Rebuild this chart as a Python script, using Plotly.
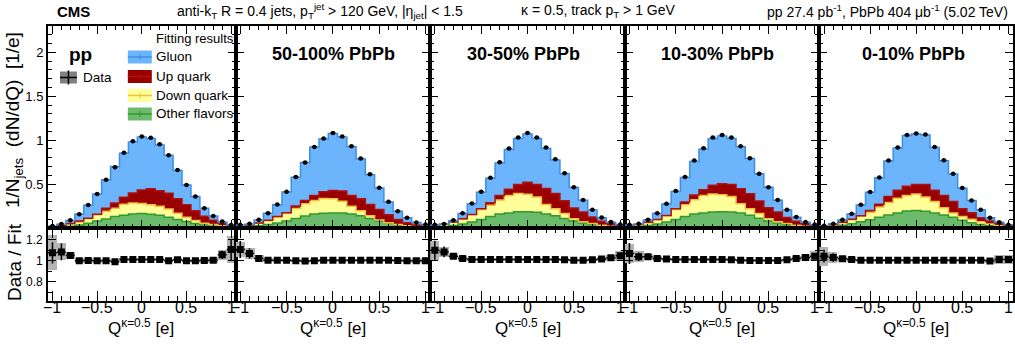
import plotly.graph_objects as go

# ---------------- data ----------------
BIN_CENTERS = [-1.0, -0.9, -0.8, -0.7, -0.6, -0.5, -0.4, -0.3, -0.2, -0.1, 0.0,
               0.1, 0.2, 0.3, 0.4, 0.5, 0.6, 0.7, 0.8, 0.9, 1.0]
BIN_EDGES = [-1.05, -0.95, -0.85, -0.75, -0.65, -0.55, -0.45, -0.35, -0.25, -0.15, -0.05,
             0.05, 0.15, 0.25, 0.35, 0.45, 0.55, 0.65, 0.75, 0.85, 0.95, 1.05]
PANEL_LABELS = ["pp", "50-100% PbPb", "30-50% PbPb", "10-30% PbPb", "0-10% PbPb"]
X_TICKS = [-1, -0.5, 0, 0.5, 1]
X_TICK_TEXT = ["\u22121", "\u22120.5", "0", "0.5", "1"]
RATIO_TICKS = [0.8, 1.0, 1.2]
RATIO_TICK_TEXT = ["0.8", "1", "1.2"]

# pp
DATA_PP = [0.023, 0.046, 0.088, 0.157, 0.261, 0.387, 0.548, 0.693, 0.858, 0.989, 1.042,
           1.027, 0.954, 0.828, 0.659, 0.490, 0.360, 0.226, 0.138, 0.073, 0.034]
FIT_TOP_PP = [0.021, 0.042, 0.084, 0.157, 0.260, 0.387, 0.548, 0.700, 0.850, 0.980, 1.035,
              1.018, 0.945, 0.828, 0.655, 0.490, 0.360, 0.226, 0.137, 0.069, 0.031]
UP_TOP_PP = [0.015, 0.030, 0.050, 0.080, 0.110, 0.157, 0.226, 0.284, 0.349, 0.398, 0.433,
             0.448, 0.425, 0.395, 0.333, 0.264, 0.195, 0.134, 0.088, 0.054, 0.028]
DOWN_TOP_PP = [0.012, 0.025, 0.040, 0.065, 0.107, 0.150, 0.190, 0.226, 0.270, 0.284, 0.280,
               0.264, 0.249, 0.215, 0.169, 0.123, 0.084, 0.054, 0.040, 0.027, 0.015]
OTHER_TOP_PP = [0.006, 0.012, 0.020, 0.035, 0.054, 0.080, 0.103, 0.130, 0.146, 0.160, 0.165,
                0.157, 0.146, 0.123, 0.096, 0.073, 0.050, 0.035, 0.022, 0.013, 0.008]
RATIO_PP = [1.075, 1.084, 1.050, 1.000, 1.003, 1.000, 1.000, 0.990, 1.012, 1.012, 1.012,
            1.012, 1.012, 1.000, 1.010, 1.000, 1.000, 1.003, 1.006, 1.056, 1.106]
STAT_PP = [0.10, 0.08, 0.03, 0.02, 0.015, 0.01, 0.01, 0.01, 0.01, 0.01, 0.01,
           0.01, 0.01, 0.01, 0.01, 0.01, 0.01, 0.015, 0.02, 0.04, 0.10]
SYST_PP = [0.165, 0.08, 0.035, 0.025, 0.02, 0.02, 0.015, 0.015, 0.015, 0.015, 0.015,
           0.015, 0.015, 0.015, 0.015, 0.015, 0.02, 0.02, 0.03, 0.05, 0.13]

# PbPb 50-100%
DATA_C50 = [0.036, 0.047, 0.093, 0.169, 0.268, 0.413, 0.580, 0.745, 0.923, 1.019, 1.083,
            1.042, 0.931, 0.790, 0.611, 0.459, 0.299, 0.192, 0.117, 0.063, 0.040]
FIT_TOP_C50 = [0.033, 0.044, 0.091, 0.168, 0.266, 0.410, 0.577, 0.745, 0.923, 1.013, 1.076,
               1.036, 0.925, 0.785, 0.607, 0.456, 0.297, 0.191, 0.117, 0.063, 0.040]
UP_TOP_C50 = [0.020, 0.035, 0.058, 0.087, 0.130, 0.175, 0.250, 0.313, 0.370, 0.413, 0.428,
              0.420, 0.370, 0.333, 0.268, 0.211, 0.150, 0.097, 0.059, 0.035, 0.020]
DOWN_TOP_C50 = [0.015, 0.030, 0.055, 0.083, 0.125, 0.170, 0.222, 0.277, 0.313, 0.336, 0.333,
                0.305, 0.248, 0.195, 0.140, 0.090, 0.060, 0.040, 0.025, 0.015, 0.008]
OTHER_TOP_C50 = [0.008, 0.015, 0.025, 0.040, 0.057, 0.080, 0.107, 0.137, 0.160, 0.168, 0.170,
                 0.170, 0.160, 0.140, 0.107, 0.080, 0.057, 0.038, 0.024, 0.014, 0.008]
RATIO_C50 = [1.106, 1.069, 1.022, 1.006, 1.006, 1.006, 1.000, 0.997, 1.000, 1.006, 1.006,
             1.006, 1.006, 1.006, 1.006, 1.006, 1.006, 1.003, 1.000, 1.000, 1.000]
STAT_C50 = [0.08, 0.05, 0.02, 0.015, 0.01, 0.01, 0.01, 0.01, 0.01, 0.01, 0.01,
            0.01, 0.01, 0.01, 0.01, 0.01, 0.01, 0.01, 0.015, 0.02, 0.03]
SYST_C50 = [0.07, 0.05, 0.03, 0.02, 0.015, 0.015, 0.015, 0.015, 0.015, 0.015, 0.015,
            0.015, 0.015, 0.015, 0.015, 0.015, 0.015, 0.015, 0.02, 0.025, 0.03]

# PbPb 30-50%
DATA_C30 = [0.036, 0.045, 0.087, 0.169, 0.280, 0.413, 0.573, 0.748, 0.904, 1.030, 1.083,
            1.030, 0.916, 0.782, 0.623, 0.463, 0.318, 0.207, 0.120, 0.067, 0.040]
FIT_TOP_C30 = [0.033, 0.042, 0.083, 0.165, 0.277, 0.408, 0.566, 0.739, 0.893, 1.018, 1.070,
               1.018, 0.905, 0.773, 0.617, 0.460, 0.316, 0.205, 0.118, 0.065, 0.038]
UP_TOP_C30 = [0.024, 0.042, 0.068, 0.105, 0.154, 0.219, 0.288, 0.371, 0.440, 0.494, 0.520,
              0.494, 0.451, 0.394, 0.310, 0.227, 0.181, 0.124, 0.078, 0.050, 0.030]
DOWN_TOP_C30 = [0.020, 0.040, 0.065, 0.100, 0.153, 0.210, 0.258, 0.318, 0.371, 0.394, 0.383,
                0.352, 0.268, 0.220, 0.165, 0.105, 0.070, 0.050, 0.030, 0.020, 0.010]
OTHER_TOP_C30 = [0.008, 0.016, 0.028, 0.046, 0.068, 0.096, 0.130, 0.160, 0.170, 0.185, 0.185,
                 0.178, 0.160, 0.140, 0.107, 0.080, 0.057, 0.038, 0.024, 0.014, 0.008]
RATIO_C30 = [1.100, 1.084, 1.044, 1.022, 1.012, 1.012, 1.012, 1.012, 1.012, 1.012, 1.012,
             1.012, 1.012, 1.012, 1.009, 1.006, 1.006, 1.009, 1.016, 1.028, 1.047]
STAT_C30 = [0.09, 0.05, 0.025, 0.015, 0.01, 0.01, 0.01, 0.01, 0.01, 0.01, 0.01,
            0.01, 0.01, 0.01, 0.01, 0.01, 0.01, 0.01, 0.015, 0.02, 0.03]
SYST_C30 = [0.09, 0.05, 0.03, 0.02, 0.015, 0.015, 0.015, 0.015, 0.015, 0.015, 0.015,
            0.015, 0.015, 0.015, 0.015, 0.015, 0.015, 0.015, 0.02, 0.03, 0.05]

# PbPb 10-30%
DATA_C10 = [0.036, 0.047, 0.093, 0.169, 0.276, 0.421, 0.581, 0.768, 0.908, 1.030, 1.060,
            1.030, 0.931, 0.794, 0.619, 0.463, 0.318, 0.207, 0.124, 0.067, 0.040]
FIT_TOP_C10 = [0.034, 0.045, 0.090, 0.165, 0.272, 0.416, 0.574, 0.758, 0.897, 1.017, 1.047,
               1.020, 0.925, 0.791, 0.619, 0.463, 0.316, 0.204, 0.121, 0.065, 0.038]
UP_TOP_C10 = [0.022, 0.040, 0.066, 0.097, 0.143, 0.219, 0.295, 0.375, 0.436, 0.486, 0.505,
              0.494, 0.448, 0.390, 0.307, 0.230, 0.181, 0.120, 0.078, 0.050, 0.030]
DOWN_TOP_C10 = [0.020, 0.038, 0.060, 0.093, 0.140, 0.210, 0.265, 0.322, 0.371, 0.387, 0.379,
                0.360, 0.276, 0.220, 0.165, 0.105, 0.070, 0.050, 0.030, 0.020, 0.010]
OTHER_TOP_C10 = [0.008, 0.016, 0.028, 0.046, 0.068, 0.096, 0.130, 0.160, 0.170, 0.182, 0.185,
                 0.182, 0.170, 0.145, 0.110, 0.080, 0.057, 0.038, 0.024, 0.014, 0.008]
RATIO_C10 = [1.069, 1.038, 1.038, 1.022, 1.016, 1.013, 1.013, 1.013, 1.013, 1.013, 1.013,
             1.010, 1.006, 1.003, 1.003, 1.003, 1.003, 1.009, 1.022, 1.031, 1.044]
STAT_C10 = [0.10, 0.04, 0.03, 0.015, 0.01, 0.01, 0.01, 0.01, 0.01, 0.01, 0.01,
            0.01, 0.01, 0.01, 0.01, 0.01, 0.01, 0.01, 0.015, 0.02, 0.03]
SYST_C10 = [0.09, 0.05, 0.03, 0.02, 0.015, 0.015, 0.015, 0.015, 0.015, 0.015, 0.015,
            0.015, 0.015, 0.015, 0.015, 0.015, 0.015, 0.015, 0.02, 0.03, 0.05]

# PbPb 0-10%
DATA_C0 = [0.025, 0.048, 0.094, 0.162, 0.265, 0.409, 0.574, 0.768, 0.917, 1.060, 1.077,
           1.065, 0.923, 0.771, 0.619, 0.455, 0.314, 0.208, 0.117, 0.066, 0.037]
FIT_TOP_C0 = [0.024, 0.047, 0.092, 0.160, 0.263, 0.407, 0.571, 0.763, 0.912, 1.054, 1.071,
              1.059, 0.918, 0.766, 0.615, 0.452, 0.312, 0.207, 0.117, 0.065, 0.036]
UP_TOP_C0 = [0.020, 0.038, 0.065, 0.100, 0.140, 0.200, 0.269, 0.360, 0.429, 0.474, 0.494,
             0.494, 0.429, 0.371, 0.303, 0.219, 0.174, 0.117, 0.080, 0.050, 0.030]
DOWN_TOP_C0 = [0.018, 0.035, 0.060, 0.095, 0.135, 0.180, 0.240, 0.290, 0.340, 0.370, 0.386,
               0.352, 0.303, 0.230, 0.170, 0.130, 0.100, 0.070, 0.045, 0.025, 0.012]
OTHER_TOP_C0 = [0.008, 0.017, 0.030, 0.047, 0.070, 0.095, 0.122, 0.147, 0.171, 0.193, 0.200,
                0.190, 0.171, 0.147, 0.122, 0.088, 0.060, 0.040, 0.025, 0.014, 0.007]
RATIO_C0 = [1.044, 1.031, 1.019, 1.012, 1.006, 1.006, 1.006, 1.006, 1.006, 1.006, 1.006,
            1.006, 1.006, 1.006, 1.006, 1.006, 1.006, 1.006, 0.997, 1.012, 1.012]
STAT_C0 = [0.06, 0.04, 0.02, 0.015, 0.01, 0.01, 0.01, 0.01, 0.01, 0.01, 0.01,
           0.01, 0.01, 0.01, 0.01, 0.01, 0.01, 0.01, 0.015, 0.02, 0.03]
SYST_C0 = [0.09, 0.05, 0.03, 0.02, 0.015, 0.015, 0.015, 0.015, 0.015, 0.015, 0.015,
           0.015, 0.015, 0.015, 0.015, 0.015, 0.015, 0.015, 0.02, 0.04, 0.04]

PANELS = [
    (DATA_PP, FIT_TOP_PP, UP_TOP_PP, DOWN_TOP_PP, OTHER_TOP_PP, RATIO_PP, STAT_PP, SYST_PP),
    (DATA_C50, FIT_TOP_C50, UP_TOP_C50, DOWN_TOP_C50, OTHER_TOP_C50, RATIO_C50, STAT_C50, SYST_C50),
    (DATA_C30, FIT_TOP_C30, UP_TOP_C30, DOWN_TOP_C30, OTHER_TOP_C30, RATIO_C30, STAT_C30, SYST_C30),
    (DATA_C10, FIT_TOP_C10, UP_TOP_C10, DOWN_TOP_C10, OTHER_TOP_C10, RATIO_C10, STAT_C10, SYST_C10),
    (DATA_C0, FIT_TOP_C0, UP_TOP_C0, DOWN_TOP_C0, OTHER_TOP_C0, RATIO_C0, STAT_C0, SYST_C0),
]

# ---------------- style / layout ----------------
FONT = "Liberation Sans, Arial, Helvetica, sans-serif"
W, H = 1015, 347
ML, MR, MT, MB = 48, 0, 26, 46
PW = W - ML - MR
PH = H - MT - MB
PANEL_PX = [48, 236, 431, 626, 821, 1015]
SPLIT_PY = 228
RATIO_RANGE = [0.62, 1.31]

C_GLUON, L_GLUON = "#6cb4fc", "#3d8fe6"
C_UP, L_UP = "#990000", "#b01010"
C_DOWN, L_DOWN = "#ffff99", "#f0c040"
C_OTHER, L_OTHER = "#6cbb6c", "#2e9a2e"
C_SYST = "#b4b4b4"


def fx(px):
    return (px - ML) / PW


def fy(py):
    return (H - MB - py) / PH


def ratio_py(v):
    # pixel row of a ratio value inside the lower panel
    return (H - MB) - (v - RATIO_RANGE[0]) / (RATIO_RANGE[1] - RATIO_RANGE[0]) * (H - MB - SPLIT_PY)


fig = go.Figure()
layout = {}
annotations = []
shapes = []

axis_common = dict(showline=True, linecolor="black", linewidth=2, mirror="ticks",
                   ticks="inside", tickcolor="black", tickwidth=1, showgrid=False,
                   zeroline=False, fixedrange=True)

for i, (data, fit, up, down, other, ratio, stat, syst) in enumerate(PANELS):
    dom = [fx(PANEL_PX[i]), fx(PANEL_PX[i + 1])]
    t, b = i + 1, i + 6
    xt, yt = f"x{t}", f"y{t}"
    xb, yb = f"x{b}", f"y{b}"

    # stacked fit components (cumulative tops) as step areas
    stack = [(other, C_OTHER, L_OTHER, "tozeroy"),
             (down, C_DOWN, L_DOWN, "tonexty"),
             (up, C_UP, L_UP, "tonexty"),
             (fit, C_GLUON, L_GLUON, "tonexty")]
    for vals, fc, lc, fillmode in stack:
        fig.add_trace(go.Scatter(x=BIN_EDGES, y=list(vals) + [vals[-1]], mode="lines",
                                 line=dict(shape="hv", color=lc, width=1.5),
                                 fill=fillmode, fillcolor=fc, xaxis=xt, yaxis=yt,
                                 showlegend=False, hoverinfo="skip"))
    # data points
    fig.add_trace(go.Scatter(x=BIN_CENTERS, y=data, mode="markers",
                             marker=dict(color="black", size=4.5),
                             error_x=dict(type="constant", value=0.03, thickness=1.5,
                                          width=0, color="#333333"),
                             xaxis=xt, yaxis=yt, showlegend=False))

    # ratio: systematic boxes
    fig.add_trace(go.Bar(x=BIN_CENTERS, y=[2 * s for s in syst],
                         base=[r - s for r, s in zip(ratio, syst)], width=0.1,
                         marker=dict(color=C_SYST, line=dict(width=0)),
                         xaxis=xb, yaxis=yb, showlegend=False))
    fig.add_trace(go.Scatter(x=BIN_CENTERS, y=ratio, mode="markers",
                             marker=dict(symbol="square", size=7, color="black"),
                             error_x=dict(type="constant", value=0.05, thickness=1.5,
                                          width=0, color="black"),
                             error_y=dict(type="data", array=stat, thickness=1.5,
                                          width=0, color="black"),
                             xaxis=xb, yaxis=yb, showlegend=False))

    layout[f"xaxis{t}"] = dict(axis_common, domain=dom, anchor=yt, range=[-1.05, 1.05],
                               tickmode="array", tickvals=X_TICKS, showticklabels=False,
                               ticklen=8,
                               minor=dict(tickmode="linear", tick0=0, dtick=0.1,
                                          ticklen=4, ticks="inside", tickcolor="black"))
    layout[f"yaxis{t}"] = dict(axis_common, domain=[fy(SPLIT_PY), 1], anchor=xt,
                               range=[0, 2.3], tickmode="array",
                               tickvals=[0.5, 1, 1.5, 2], ticktext=["0.5", "1", "1.5", "2"],
                               showticklabels=(i == 0), ticklen=8,
                               tickfont=dict(family=FONT, size=13, color="black"),
                               minor=dict(tickmode="linear", tick0=0, dtick=0.1,
                                          ticklen=4, ticks="inside", tickcolor="black"))
    layout[f"xaxis{b}"] = dict(axis_common, domain=dom, anchor=yb, range=[-1.05, 1.05],
                               tickmode="array", tickvals=X_TICKS, showticklabels=False,
                               ticklen=10,
                               minor=dict(tickmode="linear", tick0=0, dtick=0.1,
                                          ticklen=5, ticks="inside", tickcolor="black"))
    layout[f"yaxis{b}"] = dict(axis_common, domain=[0, fy(SPLIT_PY)], anchor=xb,
                               range=RATIO_RANGE, tickmode="array",
                               tickvals=RATIO_TICKS, showticklabels=False, ticklen=8,
                               minor=dict(tickmode="linear", tick0=0, dtick=0.1,
                                          ticklen=4, ticks="inside", tickcolor="black"))

    # x tick labels of the ratio panel (placed close to the axis, as in the reference)
    for v, s in zip(X_TICKS, X_TICK_TEXT):
        annotations.append(dict(x=v, y=fy(307), xref=xb, yref="paper", text=s,
                                showarrow=False, xanchor="center", yanchor="middle",
                                font=dict(family=FONT, size=16, color="black")))


def text(px, py, s, size, xanchor="left", bold=False, angle=0, yanchor="middle"):
    if bold:
        s = f"<b>{s}</b>"
    annotations.append(dict(x=fx(px), y=fy(py), xref="paper", yref="paper", text=s,
                            showarrow=False, xanchor=xanchor, yanchor=yanchor,
                            textangle=angle,
                            font=dict(family=FONT, size=size, color="black")))


# ratio y tick labels (first panel only)
for v, s in zip(RATIO_TICKS, RATIO_TICK_TEXT):
    text(45, ratio_py(v), s, 12, xanchor="right")

# header
text(55, 11, "CMS", 15, bold=True)
text(321, 11, "anti-k<sub>T</sub> R = 0.4 jets, p<sub>T</sub><sup>jet</sup> > 120 GeV, |η<sub>jet</sub>| < 1.5",
     14, xanchor="center")
text(600, 11, "κ = 0.5, track p<sub>T</sub> > 1 GeV", 14, xanchor="center")
text(1012, 11, "pp 27.4 pb<sup>-1</sup>, PbPb 404 μb<sup>-1</sup> (5.02 TeV)", 14, xanchor="right")

# panel labels
text(67, 54, PANEL_LABELS[0], 19, bold=True)
for px, lab in zip([334, 524, 719, 915], PANEL_LABELS[1:]):
    text(px, 54, lab, 18, xanchor="center", bold=True)

# axis titles
text(14, 30, "1/N<sub>jets</sub>&nbsp; (dN/dQ)&nbsp; [1/e]", 19, xanchor="center", angle=-90,
     yanchor="top")
text(14, 262, "Data&nbsp;/&nbsp;Fit", 19, xanchor="center", angle=-90)
for cx in [141.5, 333.5, 528.5, 723.5, 918]:
    text(cx, 327, "Q<sup>κ=0.5</sup> [e]", 17, xanchor="center")

# legend
text(154, 39, "Fitting results", 13)
leg_rows = [("Gluon", C_GLUON, L_GLUON, 57), ("Up quark", C_UP, L_UP, 76.5),
            ("Down quark", C_DOWN, L_DOWN, 95.5), ("Other flavors", C_OTHER, L_OTHER, 114)]
for lab, fc, lc, py in leg_rows:
    shapes.append(dict(type="rect", xref="paper", yref="paper", x0=fx(128), x1=fx(152),
                       y0=fy(py - 6.5), y1=fy(py + 6.5), fillcolor=fc, line=dict(width=0)))
    shapes.append(dict(type="line", xref="paper", yref="paper", x0=fx(128), x1=fx(152),
                       y0=fy(py), y1=fy(py), line=dict(color=lc, width=1.5)))
    shapes.append(dict(type="line", xref="paper", yref="paper", x0=fx(140), x1=fx(140),
                       y0=fy(py - 3), y1=fy(py + 3), line=dict(color=lc, width=1)))
    text(154, py, lab, 13.5)

shapes.append(dict(type="rect", xref="paper", yref="paper", x0=fx(60), x1=fx(77),
                   y0=fy(71.5), y1=fy(83.5), fillcolor="#808080", line=dict(width=0)))
shapes.append(dict(type="line", xref="paper", yref="paper", x0=fx(60), x1=fx(77),
                   y0=fy(77.5), y1=fy(77.5), line=dict(color="black", width=1.5)))
shapes.append(dict(type="line", xref="paper", yref="paper", x0=fx(68.5), x1=fx(68.5),
                   y0=fy(70.5), y1=fy(84.5), line=dict(color="black", width=1.5)))
text(81, 77.5, "Data", 13.5)

fig.update_layout(**layout)
fig.update_layout(width=W, height=H, margin=dict(l=ML, r=MR, t=MT, b=MB, pad=0),
                  paper_bgcolor="white", plot_bgcolor="white", showlegend=False,
                  annotations=annotations, shapes=shapes, bargap=0,
                  font=dict(family=FONT, color="black"))
fig.write_html("out.html", config={"displayModeBar": False})
